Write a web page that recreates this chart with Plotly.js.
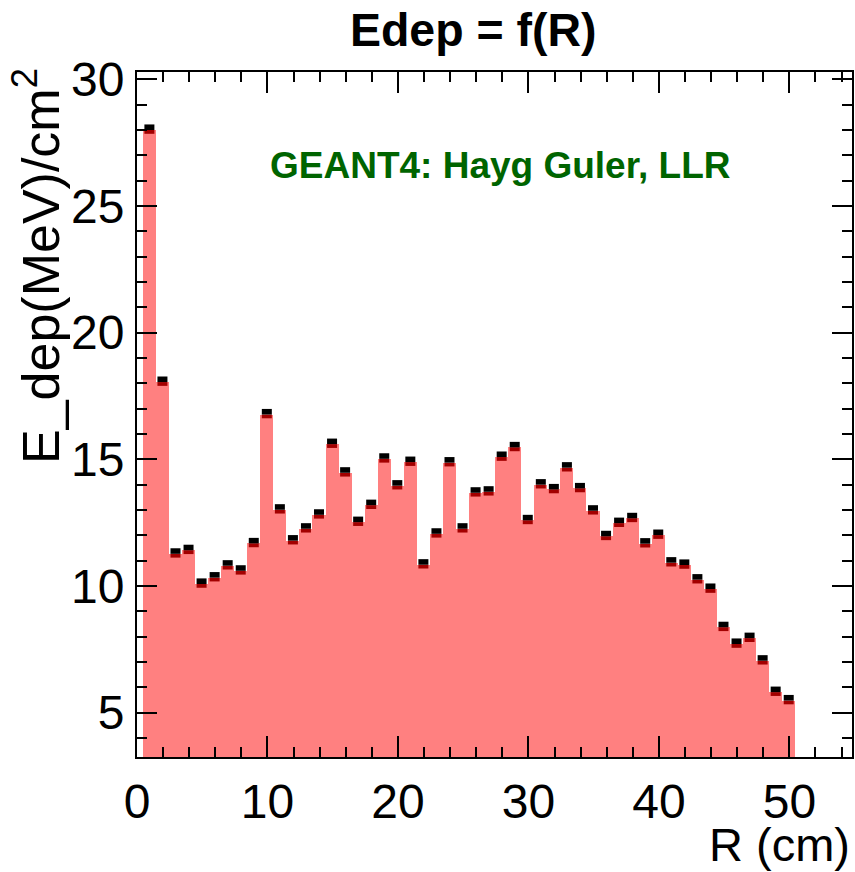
<!DOCTYPE html>
<html>
<head>
<meta charset="utf-8">
<script src="https://cdn.plot.ly/plotly-3.0.1.min.js"></script>
<style>html,body{margin:0;padding:0;background:#fff;}</style>
</head>
<body>
<div id="chart" style="width:855px;height:872px;"></div>
<script>
// Bin centres (cm) of the R histogram
const binCenters = [0.95, 1.95, 2.95, 3.95, 4.95, 5.95, 6.95, 7.95, 8.95, 9.95,
  10.95, 11.95, 12.95, 13.95, 14.95, 15.95, 16.95, 17.95, 18.95, 19.95,
  20.95, 21.95, 22.95, 23.95, 24.95, 25.95, 26.95, 27.95, 28.95, 29.95,
  30.95, 31.95, 32.95, 33.95, 34.95, 35.95, 36.95, 37.95, 38.95, 39.95,
  40.95, 41.95, 42.95, 43.95, 44.95, 45.95, 46.95, 47.95, 48.95, 49.95];
// Deposited energy per bin, MeV/cm^2
const edep = [28.0, 18.05, 11.27, 11.41, 10.08, 10.33, 10.80, 10.60, 11.68, 16.77,
  13.01, 11.79, 12.26, 12.81, 15.60, 14.47, 12.52, 13.19, 15.02, 13.96,
  14.89, 10.84, 12.06, 14.87, 12.26, 13.68, 13.72, 15.09, 15.47, 12.59,
  14.00, 13.81, 14.67, 13.85, 12.97, 11.96, 12.48, 12.67, 11.67, 12.01,
  10.92, 10.83, 10.25, 9.88, 8.37, 7.71, 7.94, 7.05, 5.81, 5.48];
const xTickVals = [0, 10, 20, 30, 40, 50];
const yTickVals = [5, 10, 15, 20, 25, 30];
const titleText = '<b>Edep = f(R)</b>';
const xTitle = 'R (cm)';
const yTitle = 'E_dep(MeV)/cm<sup>2</sup>';
const noteText = '<b>GEANT4: Hayg Guler, LLR</b>';

const FONT = 'Liberation Sans, Arial, Helvetica, sans-serif';
const capUp = edep.map(() => 0.22);
const capDown = edep.map(() => 0.15);
const zeros = edep.map(() => 0);

const traces = [
  {
    type: 'bar', x: binCenters, y: edep, width: 1,
    marker: {color: '#ff8080', line: {width: 0}},
    hoverinfo: 'x+y'
  },
  {
    type: 'scatter', mode: 'markers', x: binCenters, y: edep,
    marker: {size: 1, opacity: 0},
    error_y: {type: 'data', symmetric: false, array: zeros, arrayminus: capDown,
      thickness: 10, width: 0, color: '#a30000'},
    hoverinfo: 'skip'
  },
  {
    type: 'scatter', mode: 'markers', x: binCenters, y: edep,
    marker: {size: 1, opacity: 0},
    error_y: {type: 'data', symmetric: false, array: capUp, arrayminus: zeros,
      thickness: 10, width: 0, color: '#000000'},
    hoverinfo: 'skip'
  }
];

const layout = {
  width: 855, height: 872,
  margin: {l: 137, r: 3, t: 72, b: 115, pad: 0},
  paper_bgcolor: '#ffffff', plot_bgcolor: '#ffffff',
  showlegend: false, bargap: 0,
  font: {family: FONT, color: '#000000'},
  title: {text: titleText, font: {family: FONT, size: 46.5, color: '#000000'},
    x: 0.5535, xanchor: 'center', xref: 'container',
    y: 0.966, yanchor: 'middle', yref: 'container'},
  xaxis: {
    range: [0, 54.8], tickmode: 'array', tickvals: xTickVals,
    ticks: 'inside', ticklen: 21, tickwidth: 2, tickcolor: '#000000',
    minor: {dtick: 2, tick0: 0, ticks: 'inside', ticklen: 10, tickwidth: 2, tickcolor: '#000000'},
    showline: true, linewidth: 2, linecolor: '#000000', mirror: 'ticks',
    showgrid: false, zeroline: false, automargin: false,
    tickfont: {family: FONT, size: 48, color: '#000000'},
    ticklabelstandoff: 1
  },
  yaxis: {
    range: [3.25, 30.29], tickmode: 'array', tickvals: yTickVals,
    ticks: 'inside', ticklen: 20, tickwidth: 2, tickcolor: '#000000',
    minor: {dtick: 1, tick0: 0, ticks: 'inside', ticklen: 10, tickwidth: 2, tickcolor: '#000000'},
    showline: true, linewidth: 2, linecolor: '#000000', mirror: 'ticks',
    showgrid: false, zeroline: false, automargin: false,
    tickfont: {family: FONT, size: 48, color: '#000000'},
    ticklabelstandoff: 1
  },
  annotations: [
    {text: noteText, xref: 'paper', yref: 'paper', x: 0.509, y: 0.864,
      xanchor: 'center', yanchor: 'middle', showarrow: false,
      font: {family: FONT, size: 37, color: '#006400'}},
    {text: xTitle, xref: 'paper', yref: 'paper', x: 1.0, y: -0.128,
      xanchor: 'right', yanchor: 'middle', showarrow: false,
      font: {family: FONT, size: 47, color: '#000000'}},
    {text: yTitle, xref: 'paper', yref: 'paper', x: -0.0916, y: 1.008,
      xanchor: 'right', yanchor: 'top', showarrow: false, textangle: -90,
      font: {family: FONT, size: 52, color: '#000000'}}
  ]
};

Plotly.newPlot('chart', traces, layout, {displayModeBar: false, staticPlot: true});
</script>
</body>
</html>
